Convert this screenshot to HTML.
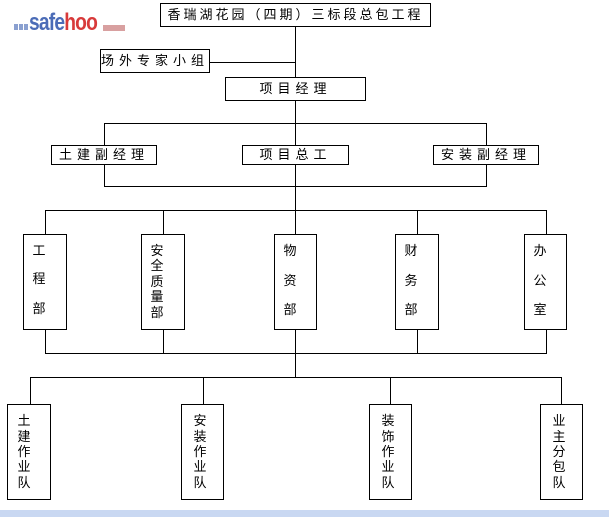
<!DOCTYPE html>
<html><head><meta charset="utf-8"><style>
body{margin:0;width:609px;height:517px;background:#fff;position:relative;overflow:hidden;font-family:"Liberation Sans","Noto Sans CJK SC",sans-serif;}
.b{position:absolute;border:1.3px solid #000;box-sizing:border-box;background:#fff;font-size:13px;text-align:center;letter-spacing:5px;white-space:nowrap;}
.l{position:absolute;background:#000;}
.h{height:1px}.v{width:1px}
.c{position:absolute;font-size:13px;line-height:13px;width:14px;text-align:center;}
</style></head><body>
<div style="position:absolute;left:14px;top:24px;width:4px;height:6px;background:#8aa0d0"></div>
<div style="position:absolute;left:19px;top:24px;width:4px;height:6px;background:#8aa0d0"></div>
<div style="position:absolute;left:24px;top:24px;width:4px;height:6px;background:#8aa0d0"></div>
<div style="position:absolute;left:29px;top:9px;font:bold 24px 'Liberation Sans Narrow','Liberation Sans',sans-serif;letter-spacing:-1px;transform:scaleX(0.8);transform-origin:left"><span style="color:#4b6cb7">safe</span><span style="color:#d83a3a">hoo</span></div>
<div style="position:absolute;left:103px;top:25px;width:22px;height:6px;background:#d8a0a0"></div>

<div class="b" style="left:160px;top:3px;width:271px;height:24px;line-height:21px;font-size:13px;letter-spacing:3px">香瑞湖花园（四期）三标段总包工程</div>
<div class="l v" style="left:295px;top:27px;height:330px"></div>
<div class="b" style="left:100px;top:49px;width:110px;height:24px;line-height:21px;text-align:left">场外专家小组</div>
<div class="l h" style="left:210px;top:62px;width:86px"></div>
<div class="b" style="left:225px;top:77px;width:141px;height:24px;line-height:21px">项目经理</div>
<div class="l h" style="left:104px;top:123px;width:383px"></div>
<div class="l v" style="left:104px;top:123px;height:64px"></div>
<div class="l v" style="left:486px;top:123px;height:64px"></div>
<div class="l h" style="left:104px;top:186px;width:383px"></div>
<div class="b" style="left:51px;top:145px;width:106px;height:20px;line-height:17px">土建副经理</div>
<div class="b" style="left:242px;top:145px;width:107px;height:20px;line-height:17px">项目总工</div>
<div class="b" style="left:433px;top:145px;width:106px;height:20px;line-height:17px">安装副经理</div>

<div class="l h" style="left:45px;top:210px;width:502px"></div>
<div class="l h" style="left:45px;top:353px;width:502px"></div>
<div class="l v" style="left:45px;top:210px;height:144px"></div>
<div class="l v" style="left:163px;top:210px;height:144px"></div>
<div class="l v" style="left:417px;top:210px;height:144px"></div>
<div class="l v" style="left:546px;top:210px;height:144px"></div>
<div class="b" style="left:23px;top:234px;width:44px;height:96px"></div>
<div class="b" style="left:141px;top:234px;width:44px;height:96px"></div>
<div class="b" style="left:274px;top:234px;width:43px;height:96px"></div>
<div class="b" style="left:395px;top:234px;width:44px;height:96px"></div>
<div class="b" style="left:524px;top:234px;width:43px;height:96px"></div>
<div class="c" style="left:32px;top:244px">工</div><div class="c" style="left:32px;top:272px">程</div><div class="c" style="left:32px;top:302px">部</div>
<div class="c" style="left:150px;top:244px">安</div><div class="c" style="left:150px;top:259px">全</div><div class="c" style="left:150px;top:275px">质</div><div class="c" style="left:150px;top:290px">量</div><div class="c" style="left:150px;top:306px">部</div>
<div class="c" style="left:283px;top:244px">物</div><div class="c" style="left:283px;top:274px">资</div><div class="c" style="left:283px;top:303px">部</div>
<div class="c" style="left:404px;top:244px">财</div><div class="c" style="left:404px;top:274px">务</div><div class="c" style="left:404px;top:303px">部</div>
<div class="c" style="left:533px;top:244px">办</div><div class="c" style="left:533px;top:274px">公</div><div class="c" style="left:533px;top:303px">室</div>

<div class="l v" style="left:295px;top:353px;height:24px"></div>
<div class="l h" style="left:30px;top:377px;width:532px"></div>
<div class="l v" style="left:30px;top:377px;height:28px"></div>
<div class="l v" style="left:203px;top:377px;height:28px"></div>
<div class="l v" style="left:390px;top:377px;height:28px"></div>
<div class="l v" style="left:561px;top:377px;height:28px"></div>
<div class="b" style="left:7px;top:404px;width:44px;height:96px"></div>
<div class="b" style="left:181px;top:404px;width:43px;height:96px"></div>
<div class="b" style="left:369px;top:404px;width:43px;height:96px"></div>
<div class="b" style="left:540px;top:404px;width:43px;height:96px"></div>
<div class="c" style="left:17px;top:414px">土</div><div class="c" style="left:17px;top:430px">建</div><div class="c" style="left:17px;top:445px">作</div><div class="c" style="left:17px;top:460px">业</div><div class="c" style="left:17px;top:476px">队</div>
<div class="c" style="left:193px;top:414px">安</div><div class="c" style="left:193px;top:430px">装</div><div class="c" style="left:193px;top:445px">作</div><div class="c" style="left:193px;top:460px">业</div><div class="c" style="left:193px;top:476px">队</div>
<div class="c" style="left:381px;top:414px">装</div><div class="c" style="left:381px;top:430px">饰</div><div class="c" style="left:381px;top:445px">作</div><div class="c" style="left:381px;top:460px">业</div><div class="c" style="left:381px;top:476px">队</div>
<div class="c" style="left:552px;top:414px">业</div><div class="c" style="left:552px;top:430px">主</div><div class="c" style="left:552px;top:445px">分</div><div class="c" style="left:552px;top:460px">包</div><div class="c" style="left:552px;top:476px">队</div>

<div style="position:absolute;left:0;top:510px;width:609px;height:7px;background:#c9d8f2"></div>
</body></html>
